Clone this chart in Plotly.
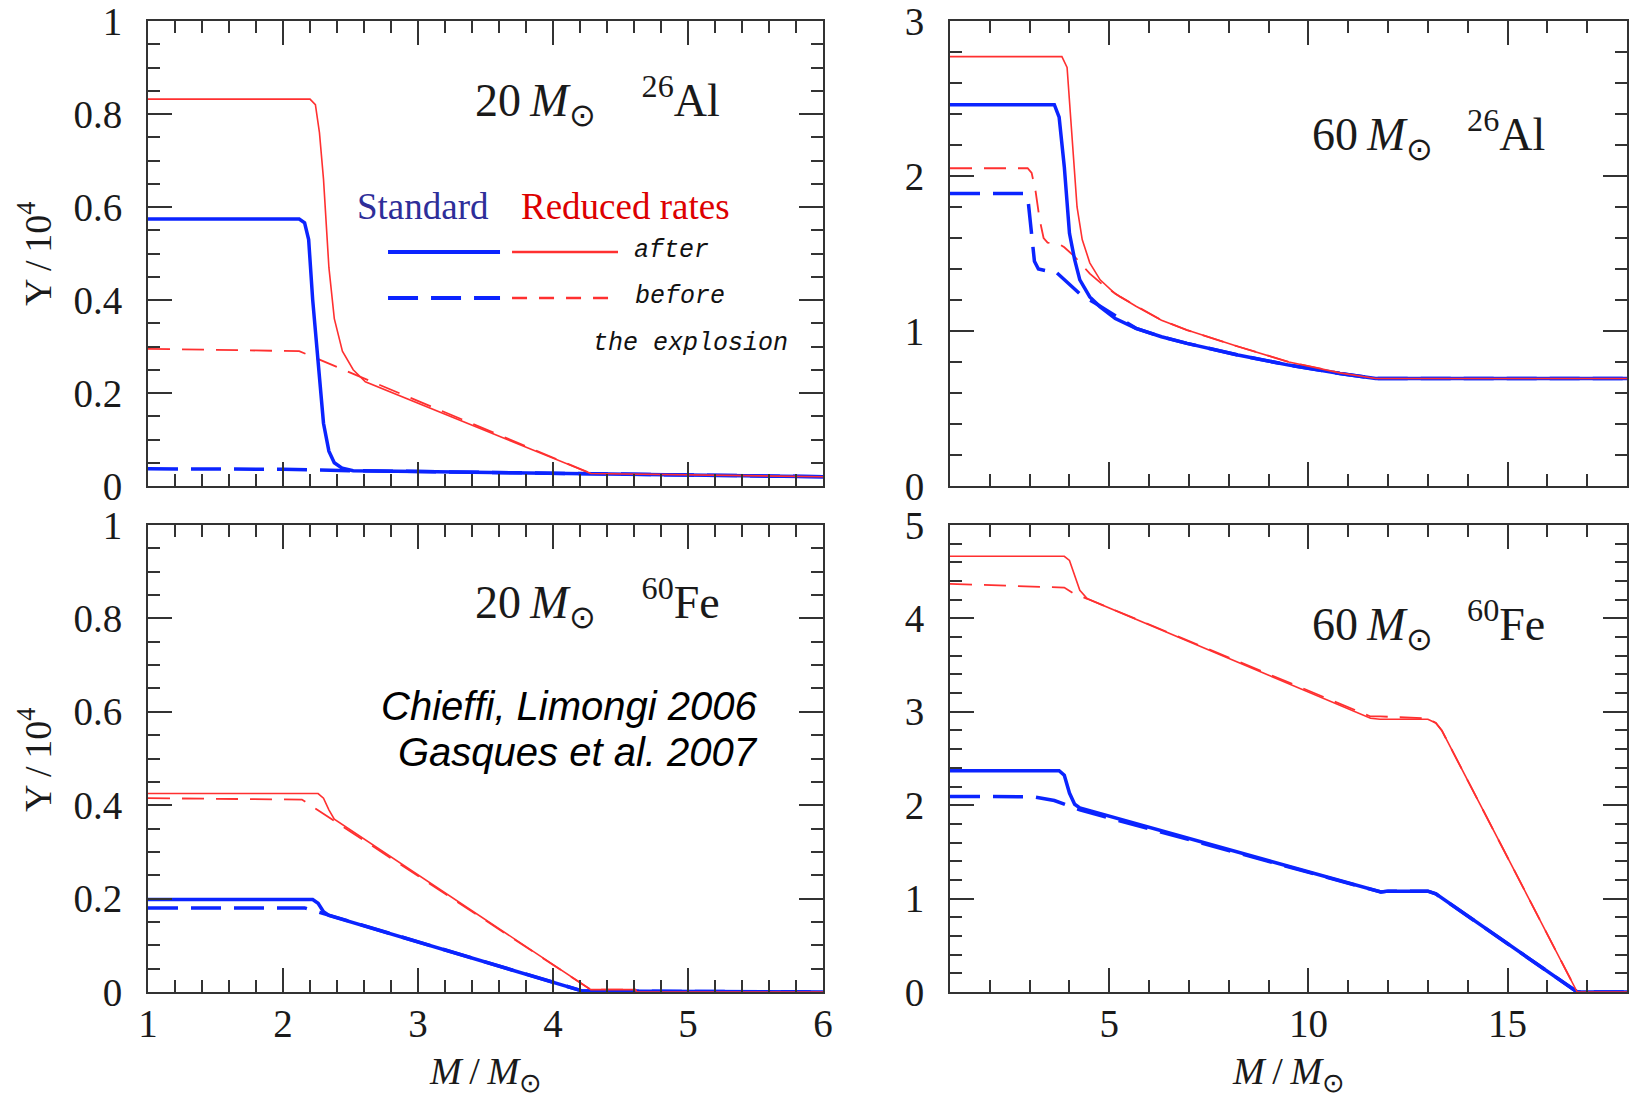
import plotly.graph_objects as go

# ---------------- data ----------------
# Panel A: 20 Msun, 26Al
al20_std_after_x = [1, 2.12, 2.16, 2.19, 2.22, 2.26, 2.30, 2.34, 2.38, 2.44, 2.52, 3.0, 4.28, 5.0, 6.0]
al20_std_after_y = [0.574, 0.574, 0.566, 0.53, 0.40, 0.256, 0.135, 0.075, 0.050, 0.038, 0.033, 0.031, 0.026, 0.023, 0.020]
al20_std_before_x = [1, 2.0, 2.5, 3.0, 4.28, 5.0, 6.0]
al20_std_before_y = [0.037, 0.036, 0.033, 0.031, 0.026, 0.023, 0.020]
al20_red_after_x = [1, 2.20, 2.24, 2.27, 2.30, 2.34, 2.38, 2.44, 2.52, 2.61, 4.28, 5.0, 6.0]
al20_red_after_y = [0.832, 0.832, 0.82, 0.76, 0.66, 0.47, 0.36, 0.29, 0.25, 0.224, 0.027, 0.024, 0.020]
al20_red_before_x = [1, 2.12, 4.28, 5.0, 6.0]
al20_red_before_y = [0.295, 0.290, 0.027, 0.024, 0.020]

# Panel B: 60 Msun, 26Al
al60_std_after_x = [1, 3.62, 3.74, 3.87, 4.0, 4.13, 4.26, 4.51, 4.77, 5.15, 5.67, 6.31, 6.95, 8.23, 9.51, 10.79, 11.69, 18]
al60_std_after_y = [2.46, 2.46, 2.38, 2.06, 1.63, 1.46, 1.33, 1.22, 1.156, 1.08, 1.017, 0.963, 0.92, 0.845, 0.78, 0.726, 0.694, 0.694]
al60_std_before_x = [1, 2.88, 2.97, 3.05, 3.12, 3.22, 3.40, 3.62, 3.87, 4.26, 4.64, 5.15, 5.67, 6.31, 6.95, 8.23, 9.51, 10.79, 11.69, 18]
al60_std_before_y = [1.887, 1.887, 1.82, 1.60, 1.45, 1.40, 1.39, 1.39, 1.33, 1.24, 1.18, 1.10, 1.017, 0.963, 0.92, 0.845, 0.78, 0.726, 0.694, 0.694]
al60_red_after_x = [1, 3.81, 3.94, 4.06, 4.19, 4.32, 4.51, 4.77, 5.15, 5.67, 6.31, 6.95, 8.23, 9.51, 10.79, 11.69, 18]
al60_red_after_y = [2.77, 2.77, 2.70, 2.27, 1.80, 1.59, 1.44, 1.33, 1.24, 1.16, 1.07, 1.006, 0.90, 0.80, 0.73, 0.694, 0.694]
al60_red_before_x = [1, 2.95, 3.05, 3.15, 3.25, 3.35, 3.45, 3.75, 3.87, 4.13, 4.51, 4.90, 5.28, 5.67, 6.31, 6.95, 8.23, 9.51, 10.79, 11.69, 18]
al60_red_before_y = [2.05, 2.05, 2.02, 1.90, 1.72, 1.60, 1.57, 1.56, 1.54, 1.48, 1.37, 1.285, 1.22, 1.165, 1.07, 1.006, 0.90, 0.80, 0.73, 0.694, 0.694]

# Panel C: 20 Msun, 60Fe
fe20_std_after_x = [1, 2.22, 2.26, 2.30, 2.34, 4.22, 6.0]
fe20_std_after_y = [0.198, 0.198, 0.19, 0.172, 0.164, 0.002, 0.0]
fe20_std_before_x = [1, 2.16, 4.22, 6.0]
fe20_std_before_y = [0.180, 0.180, 0.002, 0.0]
fe20_red_after_x = [1, 2.26, 2.30, 2.34, 2.38, 4.28, 4.61, 4.62, 6.0]
fe20_red_after_y = [0.425, 0.425, 0.415, 0.39, 0.37, 0.005, 0.005, 0.0, 0.0]
fe20_red_before_x = [1, 2.14, 4.28, 4.61, 4.62, 6.0]
fe20_red_before_y = [0.415, 0.412, 0.005, 0.005, 0.0, 0.0]

# Panel D: 60 Msun, 60Fe
fe60_std_after_x = [1, 3.74, 3.87, 4.0, 4.13, 4.26, 11.82, 12.0, 13.0, 13.2, 16.75, 18]
fe60_std_after_y = [2.37, 2.37, 2.32, 2.13, 2.01, 1.97, 1.07, 1.08, 1.08, 1.05, 0.0, 0.0]
fe60_std_before_x = [1, 3.10, 3.62, 4.0, 4.19, 4.26, 11.82, 12.0, 13.0, 13.2, 16.75, 18]
fe60_std_before_y = [2.094, 2.09, 2.05, 1.99, 1.96, 1.95, 1.07, 1.08, 1.08, 1.05, 0.0, 0.0]
fe60_red_after_x = [1, 3.87, 4.0, 4.13, 4.26, 4.45, 11.56, 11.8, 13.0, 13.2, 13.35, 16.75, 18]
fe60_red_after_y = [4.665, 4.665, 4.62, 4.46, 4.30, 4.21, 2.93, 2.92, 2.92, 2.88, 2.80, 0.0, 0.0]
fe60_red_before_x = [1, 3.87, 4.13, 4.45, 11.56, 11.8, 13.0, 13.2, 13.35, 16.75, 18]
fe60_red_before_y = [4.37, 4.33, 4.26, 4.21, 2.95, 2.95, 2.93, 2.88, 2.80, 0.0, 0.0]

panel_labels = ["20&#8201;<i>M</i><sub>⊙</sub>&nbsp;&nbsp;&nbsp;&nbsp;<sup>26</sup>Al",
                "60&#8201;<i>M</i><sub>⊙</sub>&nbsp;&nbsp;&nbsp;<sup>26</sup>Al",
                "20&#8201;<i>M</i><sub>⊙</sub>&nbsp;&nbsp;&nbsp;&nbsp;<sup>60</sup>Fe",
                "60&#8201;<i>M</i><sub>⊙</sub>&nbsp;&nbsp;&nbsp;<sup>60</sup>Fe"]

# ---------------- styling ----------------
W, H = 1630, 1097
BLUE = "#0b24ff"
RED = "#ff3030"
AXC = "#333333"
TXT = "#1a1a1a"
SERIF = "Liberation Serif"

def px_x(p):
    return p / W

def px_y(p):
    return 1 - p / H

fig = go.Figure()

panels = [
    ("x", "y", al20_std_after_x, al20_std_after_y, al20_std_before_x, al20_std_before_y,
     al20_red_after_x, al20_red_after_y, al20_red_before_x, al20_red_before_y),
    ("x2", "y2", al60_std_after_x, al60_std_after_y, al60_std_before_x, al60_std_before_y,
     al60_red_after_x, al60_red_after_y, al60_red_before_x, al60_red_before_y),
    ("x3", "y3", fe20_std_after_x, fe20_std_after_y, fe20_std_before_x, fe20_std_before_y,
     fe20_red_after_x, fe20_red_after_y, fe20_red_before_x, fe20_red_before_y),
    ("x4", "y4", fe60_std_after_x, fe60_std_after_y, fe60_std_before_x, fe60_std_before_y,
     fe60_red_after_x, fe60_red_after_y, fe60_red_before_x, fe60_red_before_y),
]

for (xa, ya, sax, say, sbx, sby, rax, ray, rbx, rby) in panels:
    fig.add_trace(go.Scatter(x=rbx, y=rby, mode="lines", xaxis=xa, yaxis=ya, showlegend=False,
                             line=dict(color=RED, width=1.8, dash="22px,12px")))
    fig.add_trace(go.Scatter(x=sbx, y=sby, mode="lines", xaxis=xa, yaxis=ya, showlegend=False,
                             line=dict(color=BLUE, width=3.5, dash="30px,13px")))
    fig.add_trace(go.Scatter(x=sax, y=say, mode="lines", xaxis=xa, yaxis=ya, showlegend=False,
                             line=dict(color=BLUE, width=3.5)))
    fig.add_trace(go.Scatter(x=rax, y=ray, mode="lines", xaxis=xa, yaxis=ya, showlegend=False,
                             line=dict(color=RED, width=1.6)))

tickfont = dict(family=SERIF, size=39, color=TXT)

def xaxis_cfg(domain, rng, dtick, minor_dtick, labels, anchor):
    return dict(domain=domain, range=rng, dtick=dtick, tick0=0, showgrid=False, zeroline=False,
                showline=True, linecolor=AXC, linewidth=2, mirror="ticks", automargin=False,
                ticks="inside", ticklen=24, tickwidth=1.6, tickcolor=AXC,
                minor=dict(ticks="inside", ticklen=12, dtick=minor_dtick, tick0=0,
                           tickwidth=1.6, tickcolor=AXC, showgrid=False),
                showticklabels=labels, tickfont=tickfont, ticklabelstandoff=-4,
                ticklabeloverflow="allow", anchor=anchor)

def yaxis_cfg(domain, rng, dtick, minor_dtick, anchor):
    return dict(domain=domain, range=rng, dtick=dtick, tick0=0, showgrid=False, zeroline=False,
                showline=True, linecolor=AXC, linewidth=2, mirror="ticks", automargin=False,
                ticks="inside", ticklen=24, tickwidth=1.6, tickcolor=AXC,
                minor=dict(ticks="inside", ticklen=12, dtick=minor_dtick, tick0=0,
                           tickwidth=1.6, tickcolor=AXC, showgrid=False),
                tickfont=tickfont, ticklabelstandoff=16, ticklabeloverflow="allow", anchor=anchor)

xl = [px_x(148), px_x(823)]
xr = [px_x(950), px_x(1627)]
yt = [px_y(486), px_y(21)]
yb = [px_y(992), px_y(525)]

fig.update_layout(
    template="none",
    width=W, height=H, margin=dict(l=0, r=0, t=0, b=0, autoexpand=False),
    paper_bgcolor="white", plot_bgcolor="white", showlegend=False,
    xaxis=xaxis_cfg(xl, [1, 6], 1, 0.2, False, "y"),
    yaxis=yaxis_cfg(yt, [0, 1], 0.2, 0.05, "x"),
    xaxis2=xaxis_cfg(xr, [1, 18], 5, 1, False, "y2"),
    yaxis2=yaxis_cfg(yt, [0, 3], 1, 0.2, "x2"),
    xaxis3=xaxis_cfg(xl, [1, 6], 1, 0.2, True, "y3"),
    yaxis3=yaxis_cfg(yb, [0, 1], 0.2, 0.05, "x3"),
    xaxis4=xaxis_cfg(xr, [1, 18], 5, 1, True, "y4"),
    yaxis4=yaxis_cfg(yb, [0, 5], 1, 0.2, "x4"),
)
ytv = [0, 0.2, 0.4, 0.6, 0.8, 1]
ytt = ["0", "0.2", "0.4", "0.6", "0.8", "1"]
fig.update_layout(yaxis=dict(tickvals=ytv, ticktext=ytt), yaxis3=dict(tickvals=ytv, ticktext=ytt))

ann = []
label_font = dict(family=SERIF, size=46, color=TXT)
for (xr_, yr_, xf, yf, lab) in [("x domain", "y domain", 0.481, 0.828, panel_labels[0]),
                                 ("x2 domain", "y2 domain", 0.532, 0.755, panel_labels[1]),
                                 ("x3 domain", "y3 domain", 0.481, 0.833, panel_labels[2]),
                                 ("x4 domain", "y4 domain", 0.532, 0.788, panel_labels[3])]:
    ann.append(dict(xref=xr_, yref=yr_, x=xf, y=yf, text=lab, showarrow=False,
                    xanchor="left", yanchor="middle", font=label_font))

# legend block inside panel A
ann.append(dict(xref="x domain", yref="y domain", x=0.4074, y=0.602, text="Standard", showarrow=False,
                xanchor="center", yanchor="middle", font=dict(family=SERIF, size=37, color="#2e2e99")))
ann.append(dict(xref="x domain", yref="y domain", x=0.7067, y=0.602, text="Reduced rates", showarrow=False,
                xanchor="center", yanchor="middle", font=dict(family=SERIF, size=37, color="#dd0000")))
mono = dict(family="Liberation Mono", size=25, color="#111111", style="italic")
ann.append(dict(xref="x domain", yref="y domain", x=0.717, y=0.5075, text="after", showarrow=False,
                xanchor="left", yanchor="middle", font=mono))
ann.append(dict(xref="x domain", yref="y domain", x=0.7185, y=0.4065, text="before", showarrow=False,
                xanchor="left", yanchor="middle", font=mono))
ann.append(dict(xref="x domain", yref="y domain", x=0.951, y=0.3075, text="the explosion", showarrow=False,
                xanchor="right", yanchor="middle", font=mono))

# references in panel C
sans_it = dict(family="Liberation Sans", size=40, color="black", style="italic")
ann.append(dict(xref="x3 domain", yref="y3 domain", x=0.9067, y=0.612, text="Chieffi, Limongi 2006",
                showarrow=False, xanchor="right", yanchor="middle", font=sans_it))
ann.append(dict(xref="x3 domain", yref="y3 domain", x=0.9067, y=0.514, text="Gasques et al. 2007",
                showarrow=False, xanchor="right", yanchor="middle", font=sans_it))

# axis titles
ytitle = "Y&#8201;/&#8201;10<sup>4</sup>"
for yc in [254, 760]:
    ann.append(dict(xref="paper", yref="paper", x=px_x(35), y=px_y(yc), text=ytitle, showarrow=False,
                    textangle=-90, xanchor="center", yanchor="middle",
                    font=dict(family=SERIF, size=38, color=TXT)))
xtitle = "<i>M</i>&#8201;/&#8201;<i>M</i><sub>⊙</sub>"
for xc in [485, 1288]:
    ann.append(dict(xref="paper", yref="paper", x=px_x(xc), y=px_y(1074), text=xtitle, showarrow=False,
                    xanchor="center", yanchor="middle", font=dict(family=SERIF, size=38, color=TXT)))

fig.update_layout(annotations=ann)

# legend key lines (decoration) in panel A
shapes = []
for (x0, x1, yv, col, w, dash) in [(0.3556, 0.5215, 0.5032, BLUE, 4, "solid"),
                                   (0.5393, 0.6963, 0.5032, RED, 2.5, "solid"),
                                   (0.3556, 0.5215, 0.4043, BLUE, 4, "30px,13px"),
                                   (0.5393, 0.6963, 0.4043, RED, 2.5, "15px,12px")]:
    shapes.append(dict(type="line", xref="x domain", yref="y domain", x0=x0, x1=x1, y0=yv, y1=yv,
                       line=dict(color=col, width=w, dash=dash)))
fig.update_layout(shapes=shapes)

fig.write_html("out.html")
